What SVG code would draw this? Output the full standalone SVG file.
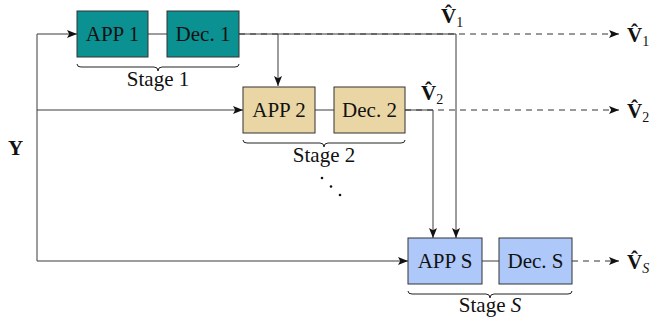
<svg xmlns="http://www.w3.org/2000/svg" width="654" height="322" viewBox="0 0 654 322">
  <defs>
    <marker id="arr" viewBox="0 0 10 8" refX="10" refY="4" markerWidth="10" markerHeight="8" markerUnits="userSpaceOnUse" orient="auto">
      <path d="M0,0 L10,4 L0,8 L2.2,4 Z" fill="#111"/>
    </marker>
  </defs>
  <style>
    .box { stroke: #333; stroke-width: 1; }
    .s1 { fill: #0b9191; }
    .s2 { fill: #e9d6a4; }
    .s3 { fill: #aec8fa; }
    text { font-family: "Liberation Serif", "DejaVu Serif", "Times New Roman", serif; fill: #111; }
    .lbl { font-size: 21px; text-anchor: middle; }
    .vec { font-size: 21px; font-weight: bold; }
    .sub { font-size: 14px; font-weight: normal; }
    .wire { fill: none; stroke: #3a3a3a; stroke-width: 1; }
    .dash { fill: none; stroke: #333; stroke-width: 1; stroke-dasharray: 6 5; }
    .brace { fill: none; stroke: #222; stroke-width: 1; }
  </style>

  <!-- connectors -->
  <g id="connectors">
    <!-- Y feeds every APP block -->
    <path class="wire" d="M37,261 V34 H77" marker-end="url(#arr)"/>
    <path class="wire" d="M37,110 H243" marker-end="url(#arr)"/>
    <path class="wire" d="M37,261 H408" marker-end="url(#arr)"/>
    <!-- APP to decoder links -->
    <path class="wire" d="M148,34 H167"/>
    <path class="wire" d="M315,110 H334"/>
    <path class="wire" d="M482,261 H499"/>
    <!-- stage 1 output routed down -->
    <path class="wire" d="M239,34 H456 V238" marker-end="url(#arr)"/>
    <path class="wire" d="M278,34 V86" marker-end="url(#arr)"/>
    <!-- stage 2 output routed down -->
    <path class="wire" d="M405,110 H433 V238" marker-end="url(#arr)"/>
    <!-- estimates -->
    <path class="dash" d="M239,34 H619" marker-end="url(#arr)"/>
    <path class="dash" d="M405,110 H619" marker-end="url(#arr)"/>
    <path class="dash" d="M572,261 H619" marker-end="url(#arr)"/>
  </g>

  <!-- stage 1 -->
  <g id="app1">
    <rect class="box s1" x="77" y="11" width="71" height="46"/>
    <text class="lbl" x="112.5" y="41">APP 1</text>
  </g>
  <g id="dec1">
    <rect class="box s1" x="167" y="11" width="72" height="46"/>
    <text class="lbl" x="203" y="41">Dec. 1</text>
  </g>
  <g id="stage1">
    <path class="brace" d="M77,64 Q77,67 81,67 H154 Q158,67 158,71 Q158,67 162,67 H235 Q239,67 239,64"/>
    <text class="lbl" x="158" y="86">Stage 1</text>
  </g>

  <!-- stage 2 -->
  <g id="app2">
    <rect class="box s2" x="243" y="87" width="72" height="46"/>
    <text class="lbl" x="279" y="117">APP 2</text>
  </g>
  <g id="dec2">
    <rect class="box s2" x="334" y="87" width="71" height="46"/>
    <text class="lbl" x="369.5" y="117">Dec. 2</text>
  </g>
  <g id="stage2">
    <path class="brace" d="M243,140 Q243,143 247,143 H320 Q324,143 324,147 Q324,143 328,143 H401 Q405,143 405,140"/>
    <text class="lbl" x="324" y="162">Stage 2</text>
  </g>

  <!-- intermediate stages -->
  <g id="dots" fill="#111">
    <circle cx="322" cy="178" r="1.3"/>
    <circle cx="331" cy="186.5" r="1.3"/>
    <circle cx="340" cy="195" r="1.3"/>
  </g>

  <!-- stage S -->
  <g id="appS">
    <rect class="box s3" x="408" y="238" width="74" height="46"/>
    <text class="lbl" x="445" y="268">APP S</text>
  </g>
  <g id="decS">
    <rect class="box s3" x="499" y="238" width="73" height="46"/>
    <text class="lbl" x="535.5" y="268">Dec. S</text>
  </g>
  <g id="stageS">
    <path class="brace" d="M408,291 Q408,294 412,294 H486 Q490,294 490,298 Q490,294 494,294 H568 Q572,294 572,291"/>
    <text class="lbl" x="490" y="312">Stage <tspan font-style="italic">S</tspan></text>
  </g>

  <!-- signal labels -->
  <g id="labels">
    <text class="vec" x="8" y="155">Y</text>
    <text class="vec" x="441" y="23">V̂<tspan class="sub" dy="4">1</tspan></text>
    <text class="vec" x="421" y="100">V̂<tspan class="sub" dy="4">2</tspan></text>
    <text class="vec" x="627" y="42">V̂<tspan class="sub" dy="4">1</tspan></text>
    <text class="vec" x="627" y="118">V̂<tspan class="sub" dy="4">2</tspan></text>
    <text class="vec" x="627" y="269">V̂<tspan class="sub" dy="4" font-style="italic">S</tspan></text>
  </g>
</svg>
